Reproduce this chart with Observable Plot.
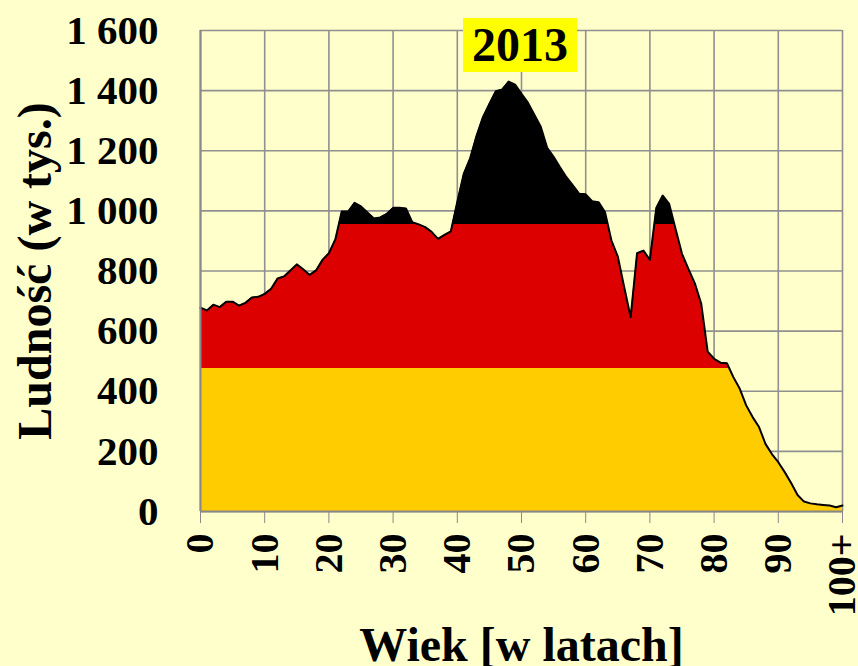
<!DOCTYPE html>
<html>
<head>
<meta charset="utf-8">
<script src="https://cdn.jsdelivr.net/npm/d3@7"></script>
<script src="https://cdn.jsdelivr.net/npm/@observablehq/plot@0.6"></script>
<style>
  html, body { margin: 0; padding: 0; background: #FFFFCC; }
  #wrap { position: relative; width: 858px; height: 666px; overflow: hidden; }
  #title { position: absolute; left: 463px; top: 18px; width: 114px; height: 54px; background: #FFFF00;
    font-family: 'Liberation Serif', 'Times New Roman', serif; font-weight: bold; font-size: 48px;
    line-height: 54px; text-align: center; color: #000; }
</style>
</head>
<body>
<div id="wrap"><div id="chart"></div><div id="title">2013</div></div>
<script>
const titleText = "2013";
const xLabel = "Wiek [w latach]";
const yLabel = "Ludność (w tys.)";
const ages = [0,1,2,3,4,5,6,7,8,9,10,11,12,13,14,15,16,17,18,19,20,21,22,23,24,25,26,27,28,29,30,31,32,33,34,35,36,37,38,39,40,41,42,43,44,45,46,47,48,49,50,51,52,53,54,55,56,57,58,59,60,61,62,63,64,65,66,67,68,69,70,71,72,73,74,75,76,77,78,79,80,81,82,83,84,85,86,87,88,89,90,91,92,93,94,95,96,97,98,99,100];
const population = [678,669,688,680,698,698,685,694,712,714,724,741,775,782,802,822,806,787,802,837,859,905,998,998,1027,1015,995,975,978,990,1010,1010,1008,962,955,946,930,907,920,932,1030,1123,1175,1250,1312,1356,1398,1404,1430,1420,1389,1360,1320,1280,1210,1180,1145,1112,1085,1057,1055,1032,1029,996,902,848,746,646,859,868,837,1010,1051,1023,940,857,807,759,691,532,508,495,493,447,408,353,314,281,225,191,164,131,95,55,33,27,24,22,20,14,20];
const xTicks = [0,10,20,30,40,50,60,70,80,90,100];
const xTickLabels = ["0","10","20","30","40","50","60","70","80","90","100+"];
const yTicks = [0,200,400,600,800,1000,1200,1400,1600];
const bandEdges = [477, 955];
const bandColors = ["#FFCC00", "#DD0000", "#000000"];

const data = ages.map((a, i) => ({age: a, value: population[i]}));
const font = "'Liberation Serif', 'Times New Roman', serif";

const chart = Plot.plot({
  width: 858, height: 666,
  marginLeft: 200, marginRight: 16, marginTop: 30, marginBottom: 155,
  style: {background: "#FFFFCC", fontFamily: font, fontWeight: "bold", color: "black", overflow: "visible"},
  x: {domain: [0, 100]},
  y: {domain: [0, 1600]},
  marks: [
    Plot.gridX(xTicks, {stroke: "#909090", strokeOpacity: 1, strokeWidth: 1.6}),
    Plot.gridY(yTicks, {stroke: "#909090", strokeOpacity: 1, strokeWidth: 1.6}),
    Plot.areaY(data, {x: "age", y: "value", fill: "url(#flag)"}),
    Plot.lineY(data, {x: "age", y: "value", stroke: "black", strokeWidth: 2}),
    Plot.ruleY([0], {stroke: "#888", strokeWidth: 2}),
    Plot.ruleX([0], {stroke: "#888", strokeWidth: 2}),
    Plot.axisX(xTicks, {tickSize: 12, tickPadding: 10, tickRotate: -90, stroke: "#888", fill: "black",
      fontSize: 40, fontWeight: "bold", label: null,
      tickFormat: d => xTickLabels[xTicks.indexOf(d)]}),
    Plot.axisY(yTicks, {tickSize: 0, tickPadding: 42, fill: "black", fontSize: 41, fontWeight: "bold", label: null,
      tickFormat: d => d3.format(",")(d).replace(",", " ")}),
    Plot.text([yLabel], {frameAnchor: "left", textAnchor: "middle", lineAnchor: "middle", dx: -165, rotate: -90,
      text: d => d, fontSize: 48, fontWeight: "bold", fill: "black"}),
    Plot.text([xLabel], {frameAnchor: "bottom", dy: 149, text: d => d, fontSize: 48, fontWeight: "bold", fill: "black"})
  ]
});

const y = chart.scale("y");
const y0 = y.apply(0), y1 = y.apply(1600);
const svg = d3.select(chart);
const grad = svg.insert("defs", ":first-child").append("linearGradient")
  .attr("id", "flag").attr("gradientUnits", "userSpaceOnUse")
  .attr("x1", 0).attr("x2", 0).attr("y1", y0).attr("y2", y1);
const stops = [
  [0, bandColors[0]], [bandEdges[0] / 1600, bandColors[0]],
  [bandEdges[0] / 1600, bandColors[1]], [bandEdges[1] / 1600, bandColors[1]],
  [bandEdges[1] / 1600, bandColors[2]], [1, bandColors[2]]
];
stops.forEach(([o, c]) => grad.append("stop").attr("offset", o).attr("stop-color", c));

document.getElementById("chart").appendChild(chart);
document.getElementById("title").textContent = titleText;
</script>
</body>
</html>
